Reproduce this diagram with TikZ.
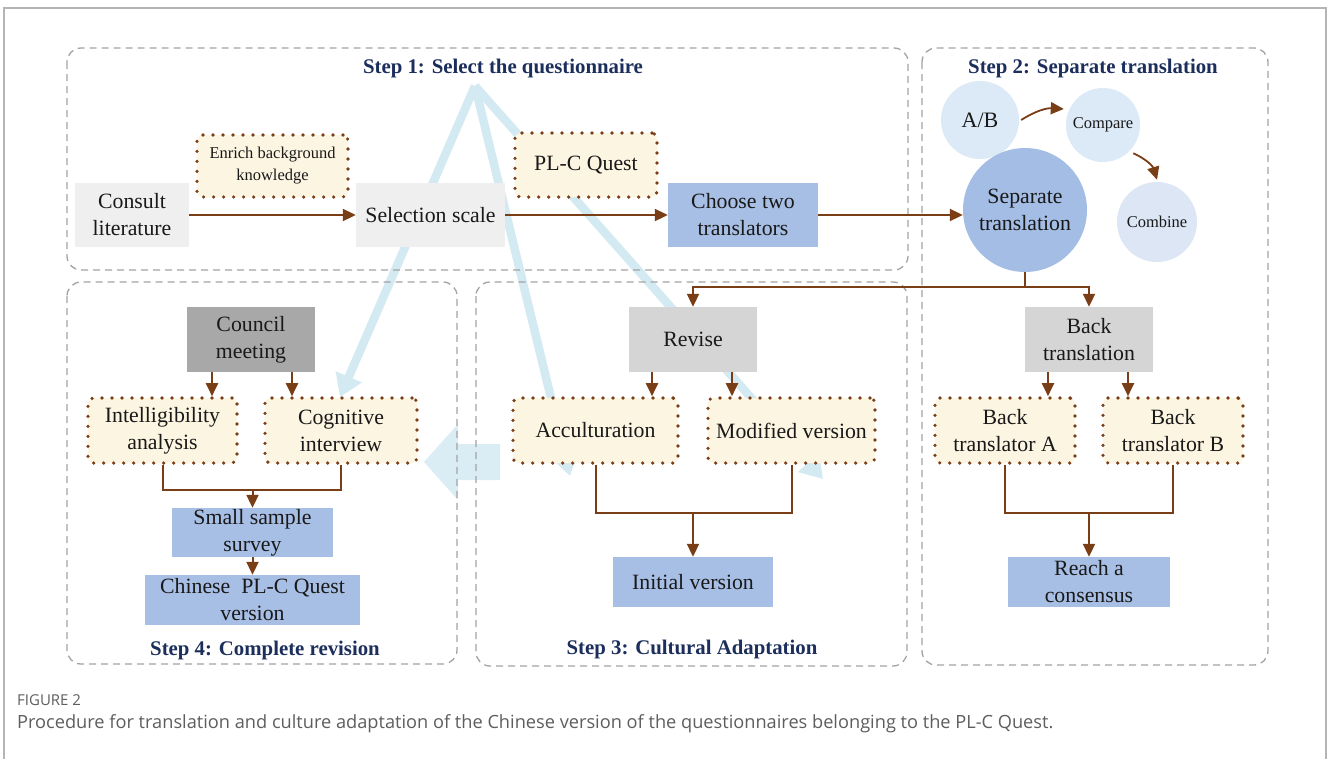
\documentclass[tikz,border=0pt]{standalone}
\usepackage{fontspec}
\setmainfont{Liberation Serif}
\newfontfamily\capfont{Open Sans}
\usetikzlibrary{arrows.meta,calc}
\definecolor{brn}{HTML}{7A3E17}
\definecolor{cream}{HTML}{FCF5E2}
\definecolor{bluebox}{HTML}{A8BFE5}
\definecolor{lgray}{HTML}{EFEFEF}
\definecolor{mgray}{HTML}{D5D5D5}
\definecolor{dgray}{HTML}{A8A8A8}
\definecolor{navy}{HTML}{1B2E5C}
\definecolor{skyline}{HTML}{D4EAF2}
\definecolor{fatblue}{HTML}{DAEDF5}
\definecolor{circA}{HTML}{DCE9F6}
\definecolor{circC}{HTML}{DCE6F5}
\definecolor{circS}{HTML}{A4BDE4}
\definecolor{framec}{HTML}{A3A3A3}
\definecolor{capgray}{HTML}{5E5E5E}
\tikzset{
  base/.style={inner sep=0pt, align=center, text=black!90, font=\fontsize{21.8}{27}\selectfont},
  graybox/.style={base, fill=lgray},
  midbox/.style={base, fill=mgray},
  darkbox/.style={base, fill=dgray},
  bluenode/.style={base, fill=bluebox},
  dotbox/.style={base, fill=cream, draw=brn, line width=3.6pt, dash pattern=on 0pt off 10pt, line cap=round, rounded corners=5pt},
  circ/.style={base, circle, fill=circA},
  stepframe/.style={draw=framec, line width=1.3pt, dash pattern=on 7pt off 5pt, rounded corners=14pt},
  steptitle/.style={font=\bfseries\fontsize{20.8}{24}\selectfont, text=navy},
  conn/.style={draw=brn, line width=2pt},
  arr/.style={conn, -{Triangle[width=12pt,length=13pt]}},
  skyarr/.style={draw=skyline, line width=8.5pt, -{Triangle[width=27pt,length=22pt]}}
}
\begin{document}
\begin{tikzpicture}[x=1pt,y=-1pt]
\useasboundingbox (0,0) rectangle (1328,758);
\fill[white] (0,0) rectangle (1328,758);
% outer frame
\draw[draw=framec!80, line width=1.5pt] (4,8) rectangle (1326,800);

% light blue background connectors
\coordinate (apex) at (475,86);
\coordinate (t1) at (340,397);
\coordinate (t2) at (570,476);
\coordinate (t3) at (823,479);
\draw[skyarr] (apex) -- (t1);
\draw[skyarr] (apex) -- (t2);
\draw[skyarr] (apex) -- (t3);
% fat arrow
\fill[fatblue] (424,462) -- (458,424) -- (458,444) -- (500,444) -- (500,480) -- (458,480) -- (458,500) -- cycle;

% step frames
\draw[stepframe] (67,48) rectangle (908,270);
\draw[stepframe] (922,48) rectangle (1268,665);
\draw[stepframe] (67,282) rectangle (457,664);
\draw[stepframe] (476,282) rectangle (907,666);

\node[steptitle] (t1title) at (503,68) {Step 1: Select the questionnaire};
\node[steptitle] (t2title) at (1093,68) {Step 2: Separate translation};
\node[steptitle] (t4title) at (265,650) {Step 4: Complete revision};
\node[steptitle] (t3title) at (692,649) {Step 3: Cultural Adaptation};

% step 1
\node[graybox, minimum width=114pt, minimum height=64pt] (consult) at (132,215) {Consult\\literature};
\node[dotbox, minimum width=151pt, minimum height=62pt, font=\fontsize{16.5}{22}\selectfont] (enrich) at (272.5,166) {Enrich background\\knowledge};
\node[graybox, minimum width=149pt, minimum height=64pt] (sel) at (430.5,215) {Selection scale};
\node[dotbox, minimum width=142pt, minimum height=64pt] (plc) at (586,165) {PL-C Quest};
\node[bluenode, minimum width=150pt, minimum height=64pt] (choose) at (743,215) {Choose two\\translators};

% step 2
\node[circ, minimum size=78pt, font=\fontsize{22}{26}\selectfont] (ab) at (980,120) {A/B};
\node[circ, minimum size=74pt, font=\fontsize{16.5}{20}\selectfont] (cmp) at (1103,125) {Compare};
\node[circ, minimum size=80pt, fill=circC, font=\fontsize{16.5}{20}\selectfont] (cmb) at (1157,222) {Combine};
\node[circ, minimum size=124pt, fill=circS] (sep) at (1025,210) {Separate\\translation};

\node[midbox, minimum width=128pt, minimum height=65pt] (back) at (1089,339.5) {Back\\translation};
\node[dotbox, minimum width=140pt, minimum height=65pt] (bta) at (1005,430.5) {Back\\translator A};
\node[dotbox, minimum width=140pt, minimum height=65pt] (btb) at (1173,430.5) {Back\\translator B};
\node[bluenode, minimum width=162pt, minimum height=50pt] (reach) at (1089,582) {Reach a\\consensus};

% step 3
\node[midbox, minimum width=128pt, minimum height=65pt] (revise) at (693,339.5) {Revise};
\node[dotbox, minimum width=165pt, minimum height=65pt] (accu) at (595.5,430.5) {Acculturation};
\node[dotbox, minimum width=167pt, minimum height=65pt] (mod) at (791.5,430.5) {Modified version};
\node[bluenode, minimum width=160pt, minimum height=50pt] (init) at (693,582) {Initial version};

% step 4
\node[darkbox, minimum width=128pt, minimum height=65pt] (council) at (251,339.5) {Council\\meeting};
\node[dotbox, minimum width=149pt, minimum height=65pt] (intel) at (162.5,430.5) {Intelligibility\\analysis};
\node[dotbox, minimum width=152pt, minimum height=65pt] (cog) at (341,430.5) {Cognitive\\interview};
\node[bluenode, minimum width=161pt, minimum height=49pt] (small) at (252.5,532.5) {Small sample\\survey};
\node[bluenode, minimum width=215pt, minimum height=50pt] (chinese) at (252.5,600) {Chinese\ \ PL-C Quest\\version};

% connectors step 1
\draw[arr] (consult) -- (sel);
\draw[arr] (sel) -- (choose);
\draw[arr] (choose.east) -- (choose.east -| sep.west);

% step 2 curved
\draw[arr, line width=1.8pt] ($(ab.east)+(2,0)$) to[bend left=18] ($(cmp.west)+(-2,-16)$);
\draw[arr, line width=1.8pt] ($(cmp.south east)+(4,2)$) to[bend left=25] ($(cmb.north)+(0,-2)$);

% split from separate translation
\draw[conn] (sep.south) -- ++(0,15) coordinate (j);
\draw[arr] (j) -| (revise.north);
\draw[arr] (j) -| (back.north);

% step 2 lower
\draw[arr] ([xshift=-41pt]back.south) -- ([xshift=-41pt]back.south |- bta.north);
\draw[arr] ([xshift=39pt]back.south) -- ([xshift=39pt]back.south |- btb.north);
\coordinate (m2) at (1089,513);
\draw[conn] (bta.south) |- (m2) -| (btb.south);
\draw[arr] (m2) -- (reach.north);

% step 3
\draw[arr] ([xshift=-41pt]revise.south) -- ([xshift=-41pt]revise.south |- accu.north);
\draw[arr] ([xshift=39pt]revise.south) -- ([xshift=39pt]revise.south |- mod.north);
\coordinate (m3) at (693,513);
\draw[conn] (accu.south) |- (m3) -| (mod.south);
\draw[arr] (m3) -- (init.north);

% step 4
\draw[arr] ([xshift=-39pt]council.south) -- ([xshift=-39pt]council.south |- intel.north);
\draw[arr] ([xshift=41pt]council.south) -- ([xshift=41pt]council.south |- cog.north);
\coordinate (m4) at (252.5,490);
\draw[conn] (intel.south) |- (m4) -| (cog.south);
\draw[arr] (m4) -- (small.north);
\draw[arr] (small.south) -- (chinese.north);

% caption
\node[anchor=west, inner sep=0pt, font=\capfont\fontsize{15}{18}\selectfont, text=capgray] (figlabel) at (17,700) {FIGURE 2};
\node[anchor=west, inner sep=0pt, font=\capfont\fontsize{18.2}{22}\selectfont, text=capgray] (caption) at (17,724) {Procedure for translation and culture adaptation of the Chinese version of the questionnaires belonging to the PL-C Quest.};
\end{tikzpicture}
\end{document}
